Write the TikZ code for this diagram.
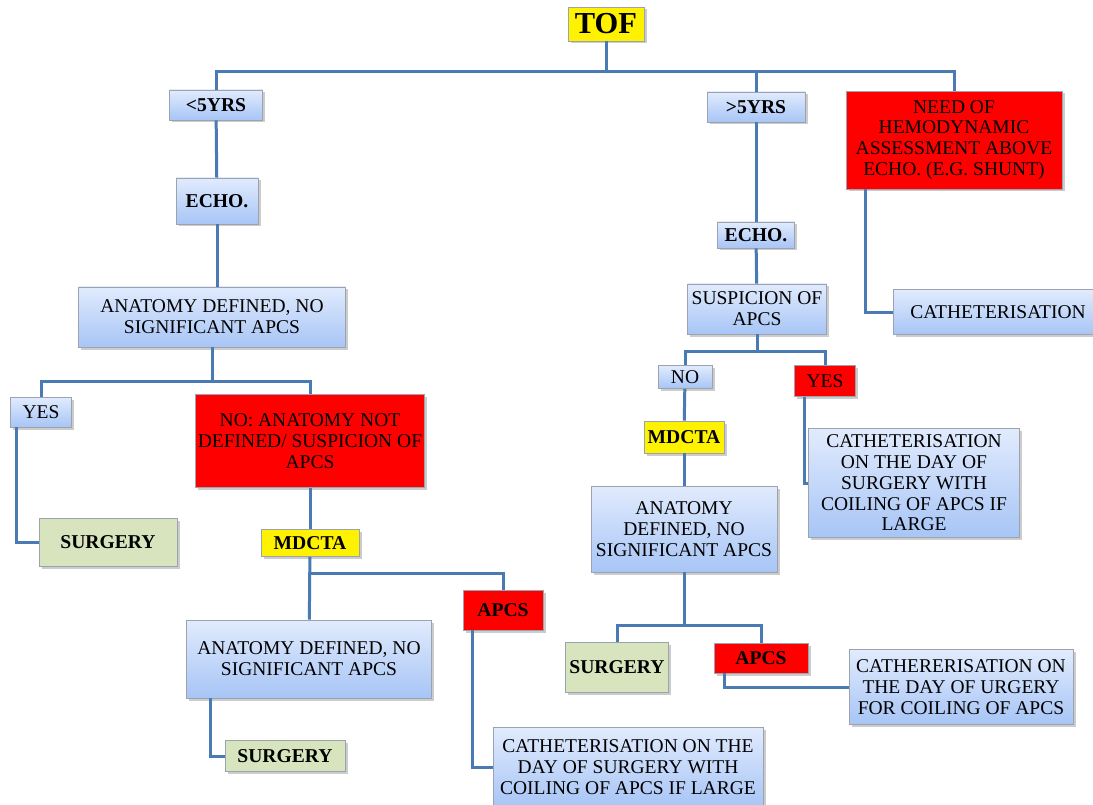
\documentclass[tikz,border=0pt]{standalone}
\usepackage{fontspec}
\setmainfont{Liberation Serif}
\newfontfamily\diagfont{Liberation Serif}
\usepackage{tikz}
\usetikzlibrary{calc,shadows}
\definecolor{boxtop}{HTML}{E1EBFD}
\definecolor{boxbot}{HTML}{A7C5F6}
\definecolor{boxline}{HTML}{9AA3AE}
\definecolor{linkblue}{HTML}{4A7AB4}
\definecolor{surggreen}{HTML}{D7E4BD}

\begin{document}
\begin{tikzpicture}[x=1pt,y=-1pt]
    \tikzset{BoxStyle/.style = {draw=boxline, line width=0.8pt, align=center,
        inner sep=0pt, font=\diagfont\fontsize{19.5}{20.8}\selectfont,
        drop shadow={shadow xshift=2.5pt, shadow yshift=-2.5pt, fill=black!40}},
      BlueBox/.style = {BoxStyle, top color=boxtop, bottom color=boxbot},
      RedBox/.style = {BoxStyle, fill=red},
      YellowBox/.style = {BoxStyle, fill=yellow, font=\diagfont\fontsize{19.6}{22}\selectfont\bfseries},
      GreenBox/.style = {BoxStyle, fill=surggreen, font=\diagfont\fontsize{19.6}{22}\selectfont\bfseries},
      BoldText/.style = {font=\diagfont\fontsize{19.6}{22}\selectfont\bfseries},
      EdgeStyle/.style = {draw=linkblue, line width=3pt}}
    \useasboundingbox (0,0) rectangle (1093,805);
    % root
    \node[YellowBox, minimum width=76, minimum height=34,
      font=\diagfont\fontsize{30.5}{32}\selectfont\bfseries] (tof) at (606,24) {TOF};
    \coordinate (tbus) at (0,72);
    % under five years
    \node[BlueBox, BoldText, minimum width=93, minimum height=30] (lt) at (216,105) {<5YRS};
    \node[BlueBox, BoldText, minimum width=82, minimum height=46] (le) at (217,201) {ECHO.};
    \node[BlueBox, minimum width=267, minimum height=60] (la) at (212,317) {ANATOMY DEFINED, NO\\SIGNIFICANT APCS};
    \node[BlueBox, minimum width=61, minimum height=30] (lyes) at (41,412) {YES};
    \node[RedBox, minimum width=229, minimum height=93] (lno) at (310,441) {NO: ANATOMY NOT\\DEFINED/ SUSPICION OF\\APCS};
    \node[GreenBox, minimum width=138, minimum height=48] (lsurg) at (108,542) {SURGERY};
    \node[YellowBox, minimum width=98, minimum height=27] (lmd) at (310,543) {MDCTA};
    \node[BlueBox, minimum width=245, minimum height=78] (lanat) at (309,659) {ANATOMY DEFINED, NO\\SIGNIFICANT APCS};
    \node[RedBox, BoldText, minimum width=80, minimum height=40] (lapcs) at (503,610) {APCS};
    \node[GreenBox, minimum width=120, minimum height=31] (lsurgb) at (285,756) {SURGERY};
    \node[BlueBox, minimum width=270, minimum height=80] (lcath) at (628,767)
      {CATHETERISATION ON THE\\DAY OF SURGERY WITH\\COILING OF APCS IF LARGE};
    % over five years
    \node[BlueBox, BoldText, minimum width=98, minimum height=30] (rt) at (756,107) {>5YRS};
    \node[BlueBox, BoldText, minimum width=77, minimum height=26] (re) at (756,235) {ECHO.};
    \node[BlueBox, minimum width=139, minimum height=50] (rsus) at (757,309) {SUSPICION OF\\APCS};
    \node[BlueBox, minimum width=54, minimum height=23] (rno) at (685,377) {NO};
    \node[RedBox, minimum width=61, minimum height=31] (ryes) at (825,381) {YES};
    \node[YellowBox, minimum width=80, minimum height=32] (rmd) at (684,437) {MDCTA};
    \node[BlueBox, minimum width=186, minimum height=86] (ranat) at (684,529) {ANATOMY\\DEFINED, NO\\SIGNIFICANT APCS};
    \node[BlueBox, minimum width=211, minimum height=109] (rcath) at (914,483)
      {CATHETERISATION\\ON THE DAY OF\\SURGERY WITH\\COILING OF APCS IF\\LARGE};
    \node[GreenBox, minimum width=103, minimum height=50] (rsurg) at (617,667) {SURGERY};
    \node[RedBox, BoldText, minimum width=94, minimum height=30] (rapcs) at (761,658) {APCS};
    \node[BlueBox, minimum width=224, minimum height=75] (rcathb) at (961,687)
      {CATHERERISATION ON\\THE DAY OF URGERY\\FOR COILING OF APCS};
    % haemodynamics
    \node[RedBox, minimum width=216, minimum height=98] (need) at (954,140)
      {NEED OF\\HEMODYNAMIC\\ASSESSMENT ABOVE\\ECHO. (E.G. SHUNT)};
    \node[BlueBox, minimum width=210, minimum height=45] (ncath) at (998,312) {CATHETERISATION};
    % links
    \draw[EdgeStyle] (tof) -- (tof |- tbus) -| (lt);
    \draw[EdgeStyle] (tof |- tbus) -| (rt);
    \draw[EdgeStyle] (tof |- tbus) -| (need);
    \draw[EdgeStyle] (lt) -- (le);
    \draw[EdgeStyle] (le.south) -- (le.south |- la.north);
    \draw[EdgeStyle] (la) -- (la |- 0,381) -| (lyes);
    \draw[EdgeStyle] (la |- 0,381) -| (lno);
    \draw[EdgeStyle] ([xshift=6]lyes.south west) |- (lsurg.west);
    \draw[EdgeStyle] (lno) -- (lmd);
    \draw[EdgeStyle] (lmd) -- (lanat);
    \draw[EdgeStyle] (lmd |- 0,573) -| (lapcs);
    \draw[EdgeStyle] ([xshift=24]lanat.south west) |- (lsurgb.west);
    \draw[EdgeStyle] ([xshift=10]lapcs.south west) |- (lcath.west);
    \draw[EdgeStyle] (rt) -- (re);
    \draw[EdgeStyle] (re) -- (rsus);
    \draw[EdgeStyle] (rsus) -- (rsus |- 0,351) -| (rno);
    \draw[EdgeStyle] (rsus |- 0,351) -| (ryes);
    \draw[EdgeStyle] (rno) -- (rmd);
    \draw[EdgeStyle] (rmd) -- (ranat);
    \draw[EdgeStyle] ([xshift=10]ryes.south west) |- (rcath.west);
    \draw[EdgeStyle] (ranat) -- (ranat |- 0,625) -| (rsurg);
    \draw[EdgeStyle] (ranat |- 0,625) -| (rapcs);
    \draw[EdgeStyle] ([xshift=11]rapcs.south west) |- (rcathb.west);
    \draw[EdgeStyle] ([xshift=20]need.south west) |- (ncath.west);
\end{tikzpicture}
\end{document}
